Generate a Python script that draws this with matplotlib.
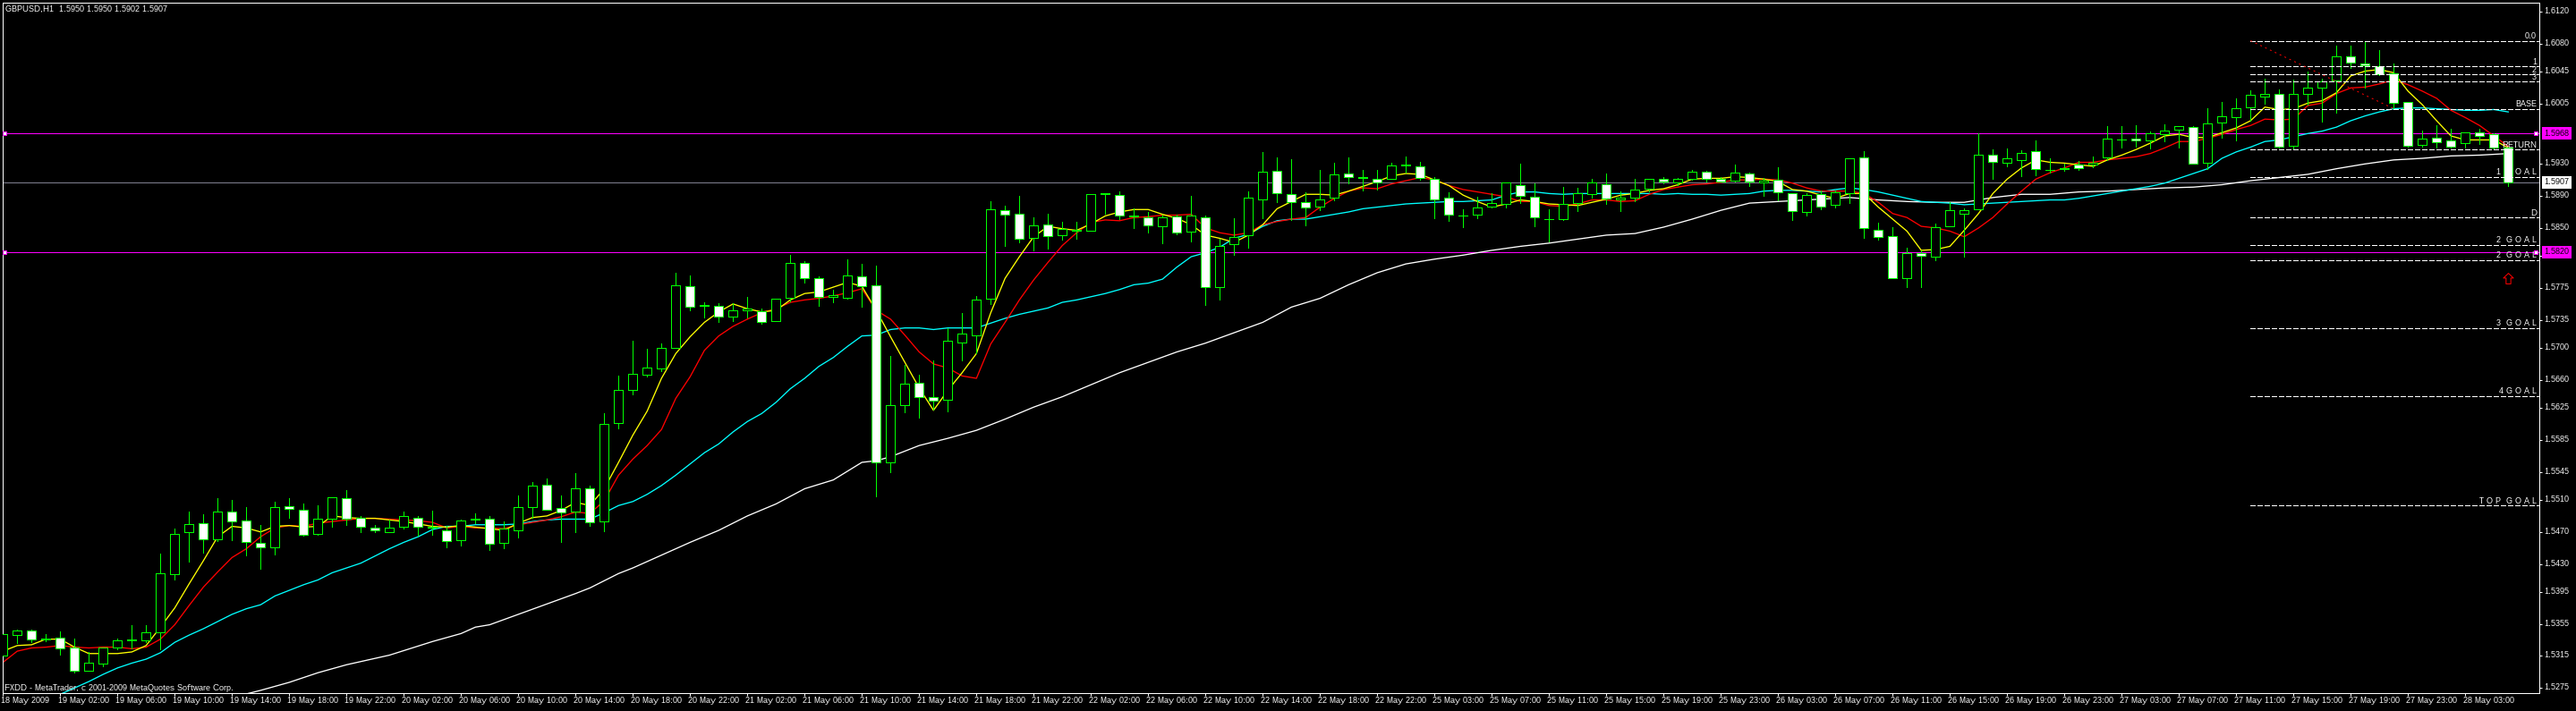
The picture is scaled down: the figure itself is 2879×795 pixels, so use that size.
import matplotlib
matplotlib.use("Agg")
import matplotlib.pyplot as plt
import numpy as np
from matplotlib.path import Path
from matplotlib.transforms import ScaledTranslation

plt.rcParams['font.family'] = ['Liberation Sans', 'DejaVu Sans']
plt.rcParams['text.hinting'] = 'native'
plt.rcParams['text.hinting_factor'] = 1

# prices are in points above 1.0000 (5907 -> 1.5907), one row = 10 bars
bar_open = [5316,5341,5347,5336,5338,5325,5297,5305,5326,5334,
            5334,5344,5417,5470,5481,5461,5495,5484,5456,5451,
            5502,5498,5467,5486,5512,5488,5475,5470,5476,5488,
            5475,5472,5460,5485,5486,5456,5472,5501,5529,5500,
            5495,5525,5483,5606,5647,5667,5674,5700,5777,5753,
            5753,5739,5747,5746,5734,5763,5806,5787,5764,5763,
            5790,5778,5557,5629,5656,5639,5635,5707,5716,5761,
            5872,5868,5837,5854,5841,5847,5847,5892,5891,5866,
            5863,5852,5864,5845,5863,5776,5830,5841,5886,5921,
            5892,5882,5877,5888,5918,5912,5911,5911,5928,5927,
            5911,5888,5866,5867,5877,5880,5904,5889,5861,5861,
            5881,5892,5905,5886,5888,5899,5911,5907,5911,5920,
            5911,5909,5918,5907,5910,5893,5870,5892,5879,5893,
            5938,5848,5840,5787,5819,5814,5852,5868,5873,5941,
            5932,5935,5946,5923,5924,5929,5929,5938,5960,5962,
            5959,5967,5973,5976,5931,5982,5989,6001,6014,6017,
            5953,6018,6025,6034,6064,6056,6052,6043,6007,5954,
            5963,5959,5956,5969,5967,5950]
bar_high = [5342,5348,5348,5342,5346,5337,5320,5326,5337,5354,
            5353,5443,5474,5496,5492,5512,5510,5501,5479,5508,
            5512,5506,5503,5513,5522,5490,5479,5485,5496,5490,
            5497,5478,5485,5493,5490,5483,5516,5532,5537,5516,
            5544,5528,5618,5665,5709,5699,5706,5794,5791,5757,
            5756,5756,5764,5749,5762,5816,5808,5790,5773,5811,
            5805,5803,5690,5679,5667,5684,5725,5744,5765,5883,
            5878,5890,5863,5868,5858,5858,5892,5893,5896,5874,
            5870,5867,5867,5890,5865,5836,5862,5896,5945,5938,
            5936,5895,5923,5932,5938,5923,5923,5932,5939,5933,
            5913,5895,5873,5889,5893,5907,5930,5906,5873,5901,
            5900,5911,5918,5896,5911,5911,5913,5912,5923,5921,
            5913,5929,5919,5912,5926,5893,5893,5897,5897,5937,
            5946,5857,5851,5825,5822,5855,5882,5874,5968,5948,
            5949,5947,5959,5937,5930,5934,5939,5977,5977,5978,
            5971,5980,5977,5977,6000,6007,6012,6022,6037,6023,
            6035,6046,6037,6078,6078,6084,6072,6055,6008,5972,
            5978,5974,5970,5974,5968,5950]
bar_low = [5316,5331,5332,5333,5317,5294,5296,5302,5323,5324,
           5332,5323,5411,5433,5444,5459,5460,5441,5424,5442,
           5488,5465,5466,5476,5479,5470,5470,5470,5474,5465,
           5466,5451,5453,5481,5447,5450,5463,5488,5498,5457,
           5470,5478,5471,5599,5642,5664,5671,5700,5747,5738,
           5732,5734,5738,5730,5734,5758,5782,5753,5757,5762,
           5751,5515,5545,5620,5613,5623,5621,5684,5693,5755,
           5827,5832,5822,5824,5835,5836,5847,5868,5861,5850,
           5844,5831,5842,5833,5754,5760,5816,5825,5862,5882,
           5860,5853,5872,5885,5906,5897,5898,5911,5919,5910,
           5862,5859,5851,5862,5876,5876,5881,5852,5833,5860,
           5871,5888,5880,5871,5883,5896,5906,5904,5910,5908,
           5908,5908,5902,5890,5885,5860,5865,5873,5876,5881,
           5837,5835,5787,5776,5776,5810,5852,5814,5873,5911,
           5927,5915,5916,5919,5921,5922,5926,5935,5950,5952,
           5949,5958,5951,5930,5924,5963,5959,5984,6005,5950,
           5948,6004,5983,5994,6050,6025,6041,5999,5952,5952,
           5950,5951,5950,5955,5948,5902]
bar_close = [5342,5347,5336,5337,5324,5296,5306,5325,5335,5336,
             5345,5418,5468,5480,5461,5496,5483,5457,5451,5501,
             5499,5466,5487,5513,5487,5476,5472,5475,5490,5477,
             5476,5459,5484,5487,5455,5474,5501,5528,5498,5494,
             5524,5482,5605,5648,5668,5675,5700,5778,5752,5754,
             5739,5747,5749,5733,5762,5806,5787,5764,5766,5791,
             5777,5557,5628,5655,5638,5634,5709,5718,5760,5873,
             5867,5836,5853,5840,5849,5848,5892,5893,5865,5864,
             5853,5863,5844,5865,5776,5828,5839,5888,5920,5893,
             5882,5876,5886,5917,5913,5913,5907,5928,5929,5912,
             5886,5867,5866,5876,5881,5907,5890,5863,5861,5880,
             5893,5907,5887,5888,5898,5911,5908,5911,5920,5911,
             5908,5919,5908,5909,5894,5871,5891,5877,5894,5937,
             5850,5839,5787,5818,5815,5851,5872,5872,5942,5933,
             5937,5944,5924,5923,5925,5925,5932,5962,5961,5959,
             5968,5972,5977,5930,5981,5990,6000,6016,6018,5952,
             6017,6025,6033,6064,6057,6053,6042,6006,5953,5962,
             5957,5952,5970,5965,5951,5907]

ma_yellow = [5321,5328,5329,5336,5336,5326,5318,5318,5318,5320,
             5328,5351,5375,5405,5434,5464,5477,5475,5470,5477,
             5478,5476,5477,5490,5488,5487,5487,5485,5483,5480,
             5477,5476,5478,5476,5474,5472,5481,5488,5490,5497,
             5507,5503,5524,5557,5591,5621,5662,5693,5714,5732,
             5745,5755,5749,5745,5747,5760,5768,5770,5776,5782,
             5777,5747,5714,5682,5650,5622,5647,5669,5693,5744,
             5787,5814,5839,5852,5849,5847,5855,5865,5870,5873,
             5873,5867,5862,5854,5841,5837,5832,5841,5854,5874,
             5883,5892,5892,5891,5896,5902,5908,5915,5918,5917,
             5910,5903,5891,5883,5876,5880,5885,5883,5880,5879,
             5878,5882,5886,5891,5893,5897,5899,5904,5911,5912,
             5912,5914,5913,5911,5908,5898,5896,5891,5887,5893,
             5893,5876,5861,5846,5822,5823,5827,5847,5868,5893,
             5911,5925,5935,5932,5931,5929,5927,5935,5941,5948,
             5956,5965,5967,5963,5963,5969,5975,5984,6001,5998,
             5999,6006,6009,6019,6040,6046,6048,6044,6021,6004,
             5984,5965,5960,5960,5960,5950]
ma_red = [5307,5321,5325,5326,5328,5326,5325,5326,5326,5324,
          5326,5336,5354,5378,5401,5420,5438,5449,5464,5475,
          5478,5477,5481,5483,5485,5487,5487,5486,5485,5484,
          5482,5475,5477,5475,5475,5474,5479,5482,5485,5489,
          5495,5493,5509,5541,5561,5578,5598,5637,5664,5697,
          5715,5727,5736,5744,5749,5757,5760,5762,5765,5769,
          5774,5747,5736,5716,5695,5680,5675,5665,5662,5705,
          5732,5760,5785,5807,5828,5844,5857,5860,5859,5863,
          5864,5866,5866,5867,5850,5844,5841,5844,5854,5858,
          5861,5863,5876,5887,5896,5900,5899,5905,5909,5913,
          5910,5903,5898,5895,5892,5889,5883,5883,5878,5877,
          5880,5885,5885,5883,5884,5892,5898,5901,5904,5905,
          5907,5910,5910,5911,5910,5906,5900,5896,5896,5896,
          5893,5882,5868,5863,5852,5850,5846,5839,5850,5863,
          5880,5896,5911,5919,5925,5932,5932,5935,5937,5939,
          5943,5950,5958,5958,5962,5967,5973,5978,5986,5985,
          5986,6003,6006,6018,6025,6026,6030,6035,6029,6021,
          6012,5997,5988,5978,5965,5952]
ma_cyan_from = 4
ma_cyan = [5267,5275,5283,5292,5300,5306,5311,5319,5332,5341,
           5349,5358,5367,5374,5379,5390,5397,5404,5410,5419,
           5425,5431,5440,5449,5457,5464,5473,5477,5477,5479,
           5479,5479,5480,5483,5485,5486,5486,5486,5494,5503,
           5508,5517,5528,5541,5555,5569,5580,5595,5608,5618,
           5632,5649,5662,5677,5688,5702,5715,5716,5723,5725,
           5725,5723,5725,5725,5725,5731,5737,5742,5746,5750,
           5757,5760,5764,5768,5773,5779,5781,5786,5801,5814,
           5819,5826,5837,5842,5852,5859,5861,5861,5864,5867,
           5870,5874,5876,5878,5880,5881,5882,5883,5883,5884,
           5885,5891,5895,5895,5893,5892,5893,5893,5893,5893,
           5893,5893,5892,5893,5892,5892,5891,5892,5893,5896,
           5897,5897,5896,5895,5898,5900,5898,5895,5891,5887,
           5883,5882,5881,5879,5880,5881,5882,5883,5884,5885,
           5885,5887,5890,5893,5896,5899,5902,5906,5912,5918,
           5924,5937,5945,5951,5958,5960,5964,5968,5971,5976,
           5984,5990,5995,5999,6000,6000,5999,5998,5997,5997,
           5998,5995]
# the slow average is read at these bars only, it is nearly straight between
ma_white_bars = [16,18,20,22,24,27,30,32,33,34,36,38,40,41,43,44,46,48,50,52,54,56,58,60,61,62,64,66,68,70,
                 72,74,76,78,80,82,84,86,88,90,92,94,96,98,100,102,104,106,108,110,112,114,116,118,120,122,
                 124,126,127,129,131,133,135,137,139,141,143,145,147,149,151,153,155,157,159,161,163,165,167,
                 169,171,173,175]
ma_white = [5263,5272,5282,5294,5304,5316,5333,5343,5351,5354,5367,5380,5393,5400,5418,5425,5441,5457,5472,5490,
            5505,5524,5535,5557,5559,5564,5578,5587,5597,5611,5626,5639,5654,5669,5682,5695,5706,5719,5732,5751,
            5762,5779,5794,5805,5811,5816,5822,5827,5831,5836,5841,5843,5851,5861,5872,5881,5883,5885,5886,5888,
            5885,5883,5882,5882,5888,5892,5892,5895,5896,5898,5900,5901,5904,5909,5913,5917,5924,5930,5935,5937,
            5940,5941,5943]

h_magenta = [5968, 5820]
h_last = 5907

level_names = ['0.0', '1', '2', '3', 'BASE', 'RETURN', '1  G O A L', 'D', '2  G O A L', '2  G O A L',
               '3  G O A L', '4 G O A L', 'T O P  G O A L']
level_price = [6084, 6052, 6042, 6033, 5999, 5948, 5914, 5863, 5829, 5810, 5725, 5640, 5503]
level_start_bar = 157
trend_bars = [157, 167]
trend_price = [6084, 5999]
arrow_bar = 175
arrow_price = 5787

y_labels = ['1.6120','1.6080','1.6045','1.6005','1.5930','1.5890','1.5850','1.5815','1.5775','1.5735','1.5700',
            '1.5660','1.5625','1.5585','1.5545','1.5510','1.5470','1.5430','1.5395','1.5355','1.5315','1.5275']
x_labels = ['18 May 2009','19 May 02:00','19 May 06:00','19 May 10:00','19 May 14:00','19 May 18:00','19 May 22:00',
            '20 May 02:00','20 May 06:00','20 May 10:00','20 May 14:00','20 May 18:00','20 May 22:00',
            '21 May 02:00','21 May 06:00','21 May 10:00','21 May 14:00','21 May 18:00','21 May 22:00',
            '22 May 02:00','22 May 06:00','22 May 10:00','22 May 14:00','22 May 18:00','22 May 22:00',
            '25 May 03:00','25 May 07:00','25 May 11:00','25 May 15:00','25 May 19:00','25 May 23:00',
            '26 May 03:00','26 May 07:00','26 May 11:00','26 May 15:00','26 May 19:00','26 May 23:00',
            '27 May 03:00','27 May 07:00','27 May 11:00','27 May 15:00','27 May 19:00','27 May 23:00',
            '28 May 03:00']

title_text = 'GBPUSD,H1  1.5950 1.5950 1.5902 1.5907'
copyright_text = 'FXDD - MetaTrader, c 2001-2009 MetaQuotes Software Corp.'


def pr(points):
    return 1 + np.asarray(points) / 10000.0


W, H = 2879, 795
PX = 0.72  # one pixel in points at dpi 100
THIN = 0.45  # non antialiased lines come out 2px wide at PX
MA_W = 0.95
GREEN = '#00ff00'
MAGENTA = '#ff00ff'
FS = 6.2

fig = plt.figure(figsize=(W / 100, H / 100), dpi=100, facecolor='black')
ax = fig.add_axes([2.5 / W, 1 - 774.5 / H, 2835 / W, 772 / H], facecolor='black')
ax.set_xlim(-0.05, 177.14)
ax.set_ylim(pr(5269.1), pr(6132.1))

bars = np.arange(len(bar_open))
o, h, l, c = pr(bar_open), pr(bar_high), pr(bar_low), pr(bar_close)

# horizontal lines sit behind everything
for p in h_magenta:
    ax.axhline(pr(p), color=MAGENTA, lw=THIN, antialiased=False, zorder=1)
    ax.plot([0.1, 176.9], [pr(p), pr(p)], ls='none', marker='s', ms=3, mfc='white', mec=MAGENTA,
            mew=PX, antialiased=False, zorder=6)
ax.axhline(pr(h_last), color='#808090', lw=THIN, antialiased=False, zorder=1)

# moving averages under the candles
ax.plot(ma_white_bars, pr(ma_white), color='white', lw=MA_W, zorder=2)
ax.plot(bars[ma_cyan_from:], pr(ma_cyan), color='#00ffff', lw=MA_W, zorder=2)
ax.plot(bars, pr(ma_red), color='#ff0000', lw=MA_W, zorder=2)
ax.plot(bars, pr(ma_yellow), color='#ffff00', lw=MA_W, zorder=2)

# candles: white body is a falling bar, black body a rising one
ax.vlines(bars, l, h, color=GREEN, lw=THIN, antialiased=False, zorder=3)
bottoms = np.minimum(o, c)
heights = np.abs(c - o)
faces = ['white' if cc < oo else 'black' for oo, cc in zip(bar_open, bar_close)]
ax.bar(bars, heights, bottom=bottoms, width=0.625, color=faces, edgecolor=GREEN, linewidth=PX,
       antialiased=False, zorder=4)

# fibo levels on the right
for name, p in zip(level_names, level_price):
    ax.plot([level_start_bar, 177.14], [pr(p), pr(p)], color='white', lw=THIN, ls=(0, (9, 4.5)),
            dash_capstyle='butt', antialiased=False, zorder=5)
    ax.annotate(name, xy=(1, pr(p)), xycoords=('axes fraction', 'data'), xytext=(-2.5 * PX, 0.5 * PX),
                textcoords='offset points', ha='right', va='bottom', color='white', fontsize=FS, zorder=7)
ax.plot(trend_bars, pr(trend_price), color='#ff0000', lw=PX, ls=(0, (2, 4)), dash_capstyle='butt', zorder=5)

# red up arrow outline
arrow = Path([(0, 1), (0.95, 0.1), (0.45, 0.1), (0.45, -1), (-0.45, -1), (-0.45, 0.1), (-0.95, 0.1), (0, 1)],
             closed=True)
ax.plot([arrow_bar], [pr(arrow_price)], ls='none', marker=arrow, ms=8.5, mfc='none', mec='#ff0000', mew=PX,
        zorder=6)

# axes
for side, sp in ax.spines.items():
    sp.set_color('white')
    sp.set_linewidth(PX)
ax.yaxis.tick_right()
ax.set_yticks(pr([float(s) * 10000 - 10000 for s in y_labels]))
ax.set_yticklabels(y_labels)
ax.set_xticks(np.arange(0, len(bars), 4))
ax.set_xticklabels(x_labels)
ax.tick_params(axis='y', colors='white', length=3 * PX, width=PX, pad=3.3 * PX, labelsize=FS)
ax.tick_params(axis='x', colors='white', length=3 * PX, width=PX, pad=1.5 * PX, labelsize=FS)
x_shift = ScaledTranslation(-2 / 100, 0, fig.dpi_scale_trans)
for lab in ax.get_xticklabels():
    lab.set_ha('left')
    lab.set_transform(lab.get_transform() + x_shift)
y_shift = ScaledTranslation(0, 1.5 / 100, fig.dpi_scale_trans)
for lab in ax.get_yticklabels():
    lab.set_transform(lab.get_transform() + y_shift)

# price boxes on the right axis
for p, face in [(5968, MAGENTA), (5820, MAGENTA), (h_last, 'white')]:
    ax.annotate('%.4f' % pr(p), xy=(1, pr(p)), xycoords=('axes fraction', 'data'), xytext=(6 * PX, 0),
                textcoords='offset points', ha='left', va='center', color='black', fontsize=FS, zorder=8,
                annotation_clip=False, bbox=dict(boxstyle='square,pad=0.3', fc=face, ec='none'))

fig.text(6 / W, 1 - 10 / H, title_text, color='white', fontsize=FS, ha='left', va='center')
fig.text(5 / W, 1 - 769 / H, copyright_text, color='white', fontsize=FS, ha='left', va='center')

fig.savefig('out.png', dpi=100, facecolor='black')
